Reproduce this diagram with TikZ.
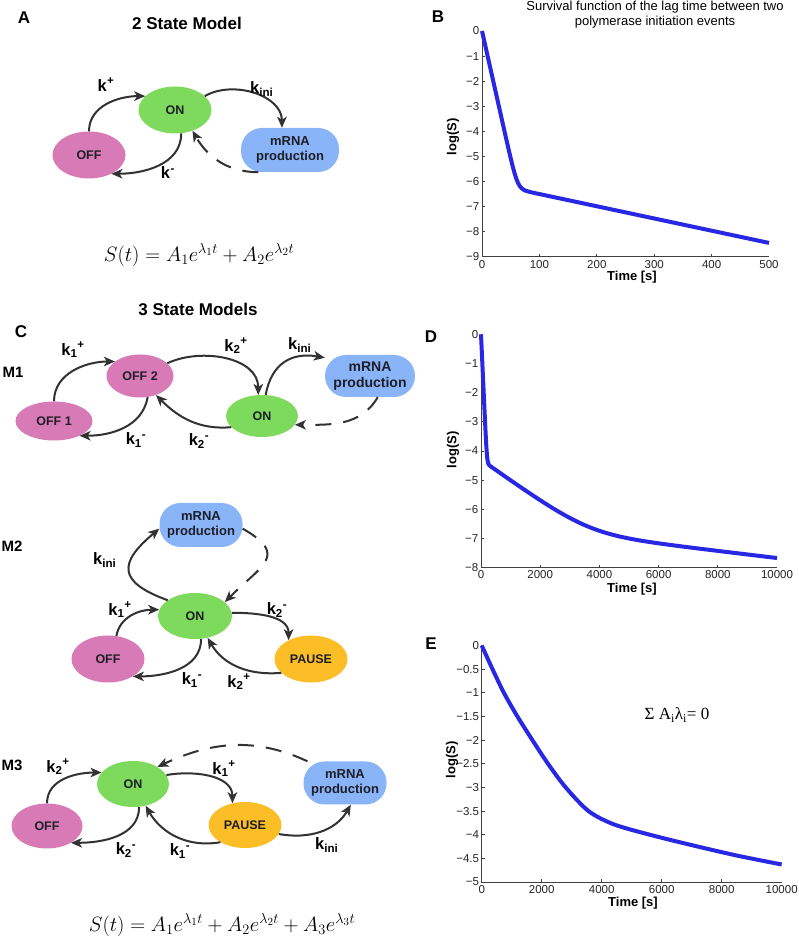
\documentclass[tikz,border=0pt]{standalone}
\usepackage{fontspec}
\setmainfont{Liberation Sans}
\newfontfamily\serifrm{Liberation Serif}
\usetikzlibrary{arrows.meta,positioning,shapes.geometric}

\definecolor{offpink}{RGB}{216,122,182}
\definecolor{ongreen}{RGB}{126,218,92}
\definecolor{mrnablue}{RGB}{138,180,248}
\definecolor{pausegold}{RGB}{251,190,38}
\definecolor{curveblue}{RGB}{40,40,228}
\definecolor{arrowgray}{RGB}{50,50,50}
\definecolor{textdark}{RGB}{30,30,40}

\newcommand{\rate}[2]{k\textsubscript{#1}\textsuperscript{#2}}

\tikzset{
  state/.style={ellipse,minimum width=72pt,minimum height=46pt,inner sep=0pt,
    text=textdark,font=\fontsize{12.5}{15}\selectfont\bfseries},
  offstate/.style={state,fill=offpink},
  onstate/.style={state,fill=ongreen},
  pausestate/.style={state,fill=pausegold},
  mrnabox/.style={rectangle,rounded corners=21pt,fill=mrnablue,minimum width=84pt,
    minimum height=44pt,inner sep=0pt,align=center,text=textdark,
    font=\fontsize{13}{15}\selectfont\bfseries},
  flow/.style={draw=arrowgray,line width=2pt,-{Stealth[length=11pt,width=9.5pt,inset=3pt]}},
  feedback/.style={flow,dash pattern=on 16pt off 12pt},
  ratelab/.style={inner sep=0pt,font=\fontsize{16.5}{18}\selectfont\bfseries},
  panel/.style={font=\fontsize{17}{20}\selectfont\bfseries},
  heading/.style={font=\fontsize{17}{20}\selectfont\bfseries},
  model/.style={font=\fontsize{15}{17}\selectfont\bfseries},
  formula/.style={font=\fontsize{22}{26}\selectfont},
  axisline/.style={draw=black!75,line width=0.9pt},
  ticklab/.style={inner sep=0.5pt,text=black!85,font=\fontsize{11.5}{13}\selectfont},
  axislab/.style={inner sep=1pt,font=\fontsize{13}{15}\selectfont\bfseries},
  plottitle/.style={align=center,font=\fontsize{13}{15}\selectfont},
  curve/.style={draw=curveblue,line width=4pt,line join=round},
}

\begin{document}
\begin{tikzpicture}[x=1pt,y=1pt,
  declare function={lsum(\a,\b)=max(\a,\b)+0.434294*ln(1+exp(-2.302585*min(abs(\a-\b),3)));}]
  \useasboundingbox (0,0) rectangle (798,939);
  \fill[white] (0,0) rectangle (798,939);

  % A: two state model
  \node[panel] (labA) at (24,921) {A};
  \node[heading] (headA) at (187,916) {2 State Model};
  \node[onstate,minimum width=73pt,minimum height=47pt] (onA) at (175,829) {ON};
  \node[offstate,minimum width=73pt,minimum height=47pt] (offA) at (89,784) {OFF};
  \node[mrnabox,minimum width=98pt] (mrnaA) at (290,789) {mRNA\\production};
  \draw[flow] (offA.north) to[out=90,in=180] (onA.155);
  \draw[flow] (onA.25) to[out=30,in=90] (mrnaA.110);
  \draw[flow] (onA.-75) to[out=-90,in=0] (offA.-40);
  \draw[feedback] (mrnaA.215) to[out=180,in=-60] (onA.-50);
  \node[ratelab] (kA1) at (106,853) {\rate{}{+}};
  \node[ratelab] (kA2) at (262,850) {\rate{ini}{}};
  \node[ratelab] (kA3) at (168,765) {\rate{}{-}};
  \node[formula] (eqA) at (199,684) {$S(t)=A_1e^{\lambda_1 t}+A_2e^{\lambda_2 t}$};

  % C: three state models
  \node[heading] (headC) at (198,630) {3 State Models};
  \node[panel] (labC) at (21,607) {C};

  % M1
  \node[model] (labM1) at (13,567) {M1};
  \node[offstate,minimum width=77pt,minimum height=39pt] (off1) at (54,518) {OFF 1};
  \node[offstate,minimum width=67pt,minimum height=43pt] (off2) at (140,563) {OFF 2};
  \node[onstate,minimum height=42pt] (onM1) at (262,523) {ON};
  \node[mrnabox,minimum width=90pt,minimum height=42pt,
    font=\fontsize{14}{16}\selectfont\bfseries] (mrnaM1) at (370,563) {mRNA\\production};
  \draw[flow] (off1.north) to[out=90,in=180] (off2.150);
  \draw[flow] (off2.25) to[out=25,in=90] (onM1.100);
  \draw[flow] (onM1.80) to[out=80,in=170,looseness=1.2] (mrnaM1.158);
  \draw[flow] (off2.-70) to[out=-100,in=0] (off1.-30);
  \draw[flow] (onM1.200) to[out=185,in=-45] (off2.-50);
  \draw[feedback] (mrnaM1.-70) to[out=-120,in=0] (onM1.-15);
  \node[ratelab] (kM1a) at (73,589) {\rate{1}{+}};
  \node[ratelab] (kM1b) at (236,593) {\rate{2}{+}};
  \node[ratelab] (kM1c) at (300,594) {\rate{ini}{}};
  \node[ratelab] (kM1d) at (136,499) {\rate{1}{-}};
  \node[ratelab] (kM1e) at (199,498) {\rate{2}{-}};

  % M2
  \node[model] (labM2) at (12,393) {M2};
  \node[mrnabox,minimum width=83pt] (mrnaM2) at (201,414) {mRNA\\production};
  \node[onstate,minimum width=74pt] (onM2) at (195,323) {ON};
  \node[offstate,minimum width=73pt,minimum height=47pt] (offM2) at (108,280) {OFF};
  \node[pausestate,minimum width=73pt,minimum height=47pt] (pauseM2) at (311,280) {PAUSE};
  \draw[flow] (onM2.150) to[out=160,in=220,looseness=1.9] (mrnaM2.185);
  \draw[feedback] (mrnaM2.-5) to[out=-30,in=45,looseness=1.8] (onM2.25);
  \draw[flow] (offM2.70) to[out=80,in=180] (onM2.170);
  \draw[flow] (onM2.-75) to[out=-90,in=0] (offM2.-35);
  \draw[flow] (onM2.5) to[out=0,in=90] (pauseM2.140);
  \draw[flow] (pauseM2.205) to[out=185,in=-60] (onM2.-60);
  \node[ratelab] (kM2a) at (105,379) {\rate{ini}{}};
  \node[ratelab] (kM2b) at (120,329) {\rate{1}{+}};
  \node[ratelab] (kM2c) at (192,259) {\rate{1}{-}};
  \node[ratelab] (kM2d) at (277,329) {\rate{2}{-}};
  \node[ratelab] (kM2e) at (239,257) {\rate{2}{+}};

  % M3
  \node[model] (labM3) at (12,174) {M3};
  \node[offstate,minimum width=71pt,minimum height=45pt] (offM3) at (47,113) {OFF};
  \node[onstate] (onM3) at (133,155) {ON};
  \node[pausestate,minimum width=73pt] (pauseM3) at (245,114) {PAUSE};
  \node[mrnabox,minimum width=83pt,minimum height=43pt] (mrnaM3) at (345,156) {mRNA\\production};
  \draw[flow] (offM3.north) to[out=90,in=180] (onM3.160);
  \draw[flow] (onM3.-75) to[out=-90,in=0] (offM3.-35);
  \draw[flow] (onM3.15) to[out=10,in=90] (pauseM3.120);
  \draw[flow] (pauseM3.215) to[out=190,in=-60] (onM3.-60);
  \draw[flow] (pauseM3.-15) to[out=-10,in=-120] (mrnaM3.-75);
  \draw[feedback] (mrnaM3.150) to[out=155,in=25] (onM3.35);
  \node[ratelab] (kM3a) at (58,172) {\rate{2}{+}};
  \node[ratelab] (kM3b) at (126,89) {\rate{2}{-}};
  \node[ratelab] (kM3c) at (224,170) {\rate{1}{+}};
  \node[ratelab] (kM3d) at (180,88) {\rate{1}{-}};
  \node[ratelab] (kM3e) at (327,94) {\rate{ini}{}};
  \node[formula] (eqC) at (222,14) {$S(t)=A_1e^{\lambda_1 t}+A_2e^{\lambda_2 t}+A_3e^{\lambda_3 t}$};

  % B: survival function, 2 states
  \node[panel] (labB) at (438,922) {B};
  \node[plottitle] (titB) at (655,924) {Survival function of the lag time between two\\polymerase initiation events};
  \begin{scope}[shift={(482,908)},x=0.574pt,y=25.1pt]
    \draw[axisline] (0,0) -- (0,-9) -- (500,-9);
    \foreach \v in {1,...,8} \draw[axisline] (0,-\v) -- ++(3pt,0);
    \foreach \t in {100,200,...,400} \draw[axisline] (\t,-9) -- ++(0,3pt);
    \node[ticklab,anchor=east,xshift=-2pt] (yB0) at (0,0) {0};
    \foreach \v in {1,...,9} \node[ticklab,anchor=east,xshift=-2pt] (yB\v) at (0,-\v) {−\v};
    \foreach \t in {0,100,...,500} \node[ticklab,anchor=north,yshift=-2.5pt] (xB\t) at (\t,-9) {\t};
    \draw[curve] plot[domain=0:500,samples=160] (\x,{lsum(-0.102*\x,-6.01-0.004875*\x)});
  \end{scope}
  \node[axislab] (timeB) at (632,662) {Time [s]};
  \node[axislab,rotate=90] (logB) at (453,802) {log(S)};

  % D: survival function, 3 states
  \node[panel] (labD) at (431,602) {D};
  \begin{scope}[shift={(481,604.7)},x=0.0296pt,y=29.17pt]
    \draw[axisline] (0,0) -- (0,-8) -- (10000,-8);
    \foreach \v in {1,...,7} \draw[axisline] (0,-\v) -- ++(3pt,0);
    \foreach \t in {2000,4000,...,8000} \draw[axisline] (\t,-8) -- ++(0,3pt);
    \node[ticklab,anchor=east,xshift=-2pt] (yD0) at (0,0) {0};
    \foreach \v in {1,...,8} \node[ticklab,anchor=east,xshift=-2pt] (yD\v) at (0,-\v) {−\v};
    \foreach \t in {0,2000,...,10000} \node[ticklab,anchor=north,yshift=-2.5pt] (xD\t) at (\t,-8) {\t};
    \draw[curve] plot[samples at={0,10,...,400,500,600,...,10000}]
      (\x,{lsum(lsum(-0.022*\x,-4.3-0.00072*\x),-6.45-0.000125*\x)});
  \end{scope}
  \node[axislab] (timeD) at (632,350) {Time [s]};
  \node[axislab,rotate=90] (logD) at (453,489) {log(S)};

  % E: survival function with zero initial slope
  \node[panel] (labE) at (431,295) {E};
  \begin{scope}[shift={(481.7,293.5)},x=0.03pt,y=47.3pt]
    \draw[axisline] (0,0) -- (0,-5) -- (10000,-5);
    \foreach \v in {0.5,1,...,4.5} \draw[axisline] (0,-\v) -- ++(3pt,0);
    \foreach \t in {2000,4000,...,8000} \draw[axisline] (\t,-5) -- ++(0,3pt);
    \foreach \v/\s [count=\i] in {0/0,0.5/−0.5,1/−1,1.5/−1.5,2/−2,2.5/−2.5,3/−3,3.5/−3.5,4/−4,4.5/−4.5,5/−5}
      \node[ticklab,anchor=east,xshift=-2pt] (yE\i) at (0,-\v) {\s};
    \foreach \t in {0,2000,...,10000} \node[ticklab,anchor=north,yshift=-2.5pt] (xE\t) at (\t,-5) {\t};
    \draw[curve] plot[smooth] coordinates {(0,0) (360,-0.5) (740,-1) (1190,-1.5) (1690,-2)
      (2210,-2.5) (2800,-3) (3560,-3.5) (4400,-3.78) (5600,-4) (7000,-4.22) (8500,-4.44) (10000,-4.63)};
  \end{scope}
  \node[axislab] (timeE) at (633,36) {Time [s]};
  \node[axislab,rotate=90] (logE) at (452,179) {log(S)};
  \node[font=\serifrm\fontsize{17}{20}\selectfont] (sumE) at (677,224) {Σ A\textsubscript{i}λ\textsubscript{i}= 0};
\end{tikzpicture}
\end{document}
